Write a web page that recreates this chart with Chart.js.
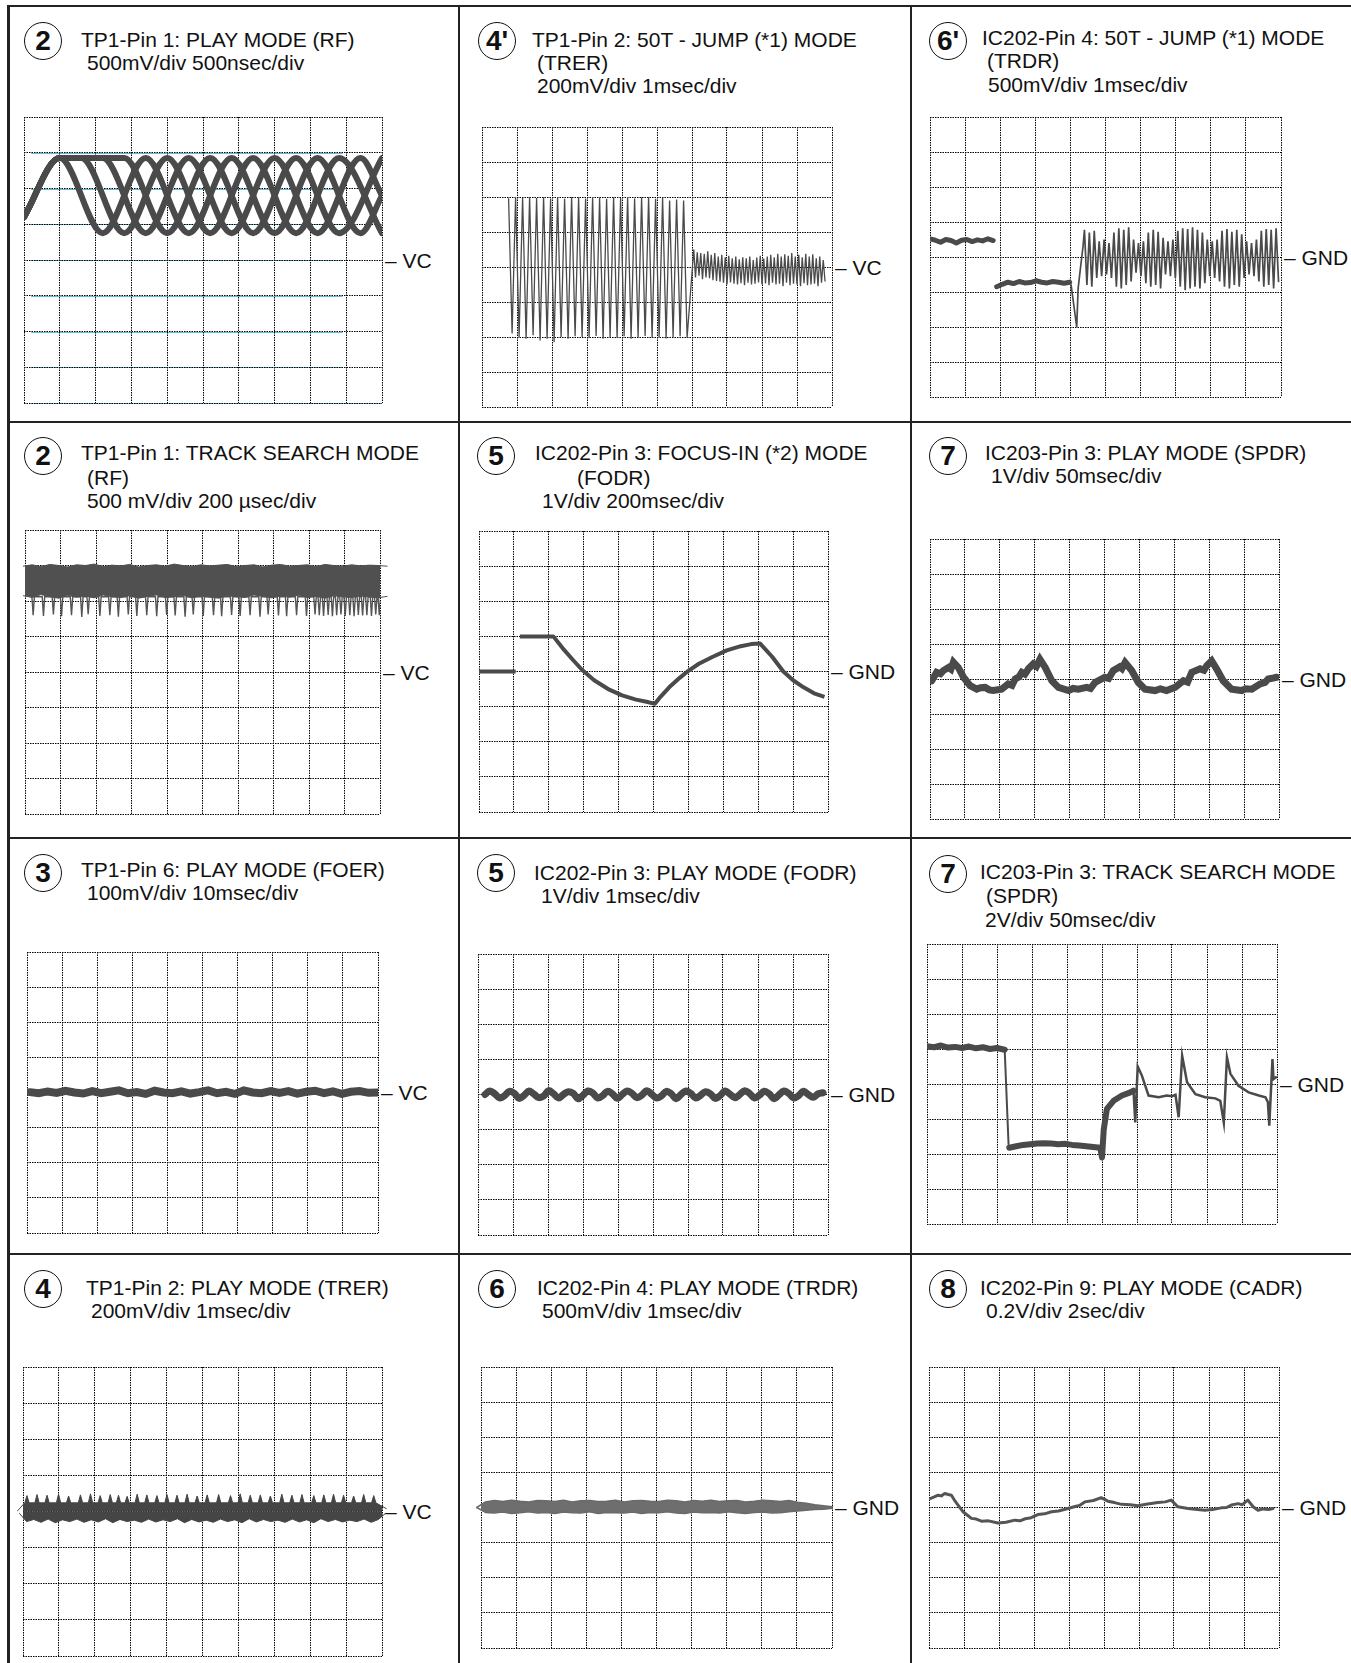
<!DOCTYPE html>
<html>
<head>
<meta charset="utf-8">
<title>Waveforms</title>
<script src="https://cdn.jsdelivr.net/npm/chart.js@4.4.1/dist/chart.umd.min.js"></script>
<style>
  html, body { margin: 0; padding: 0; background: #fff; }
  #sheet { position: relative; width: 1351px; height: 1663px; overflow: hidden;
           font-family: "Liberation Sans", Arial, sans-serif; color: #111; }
  .rule { position: absolute; background: #222; }
  .txt { position: absolute; font-size: 21px; line-height: 21px; white-space: nowrap; }
  .badge { position: absolute; box-sizing: border-box; width: 38px; height: 38px; border: 1.3px solid #111;
           border-radius: 50%; font-weight: bold; font-size: 28px; line-height: 36px; text-align: center; }
  canvas { position: absolute; }
</style>
</head>
<body>
<div id="sheet"></div>
<script>
// ---- waveform data (x in divisions 0..10, y in divisions from the VC / GND line) ----

// 2: TP1-Pin 1 play mode (RF) eye pattern, four overlapping traces
const rfPlayAX = [0, 1.0, 2.2, 3.4, 4.6, 5.8, 7.0, 8.2, 9.4, 10.0];
const rfPlayAY = [1.2, 2.85, 0.75, 2.85, 0.75, 2.85, 0.75, 2.85, 0.75, 1.8];
const rfPlayBX = [0, 1.0, 1.6, 2.8, 4.0, 5.2, 6.4, 7.6, 8.8, 10.0];
const rfPlayBY = [1.2, 2.85, 2.85, 0.75, 2.85, 0.75, 2.85, 0.75, 2.85, 0.75];
const rfPlayCX = [0, 1.0, 2.2, 3.4, 4.6, 5.8, 7.0, 8.2, 9.4, 10.0];
const rfPlayCY = [1.2, 2.85, 2.85, 0.75, 2.85, 0.75, 2.85, 0.75, 2.85, 1.8];
const rfPlayDX = [0, 1.0, 2.8, 4.0, 5.2, 6.4, 7.6, 8.8, 10.0];
const rfPlayDY = [1.2, 2.85, 2.85, 0.75, 2.85, 0.75, 2.85, 0.75, 2.85];

// 4': TP1-Pin 2 50T jump (TRER)
const trerJumpBurst = [1.95,-1.9,2.0,-2.0,1.98,-2.05,2.0,-1.95,1.97,-2.1,
  2.0,-2.05,1.96,-2.15,2.0,-2.0,1.95,-2.05,2.0,-1.98,
  1.99,-2.0,1.96,-2.02,2.0,-1.97,1.98,-2.05,1.95,-2.0,
  2.0,-2.03,1.97,-1.98,2.0,-2.05,1.96,-2.0,1.99,-1.97,
  2.0,-2.02,1.95,-2.0,1.98,-2.04,1.9,-2.0,1.93,-1.98,
  1.9,-2.02];
const trerJumpTail = [0.5,-0.3,0.42,-0.25,0.4,-0.35,0.38,-0.3,0.45,-0.32,
  0.35,-0.38,0.4,-0.4,0.3,-0.42,0.35,-0.45,0.28,-0.5,
  0.32,-0.44,0.25,-0.48,0.3,-0.5,0.22,-0.46,0.28,-0.52,
  0.25,-0.45,0.3,-0.5,0.2,-0.48,0.27,-0.44,0.32,-0.5,
  0.24,-0.47,0.3,-0.52,0.35,-0.45,0.28,-0.5,0.38,-0.48,
  0.3,-0.55,0.36,-0.45,0.32,-0.52,0.4,-0.48,0.3,-0.5,
  0.35,-0.55,0.28,-0.46,0.38,-0.52,0.3,-0.5,0.36,-0.48,
  0.25,-0.55,0.3,-0.45,0.2,-0.4];

// 6': IC202-Pin 4 50T jump (TRDR)
const trdrJumpHigh = [0.52,0.48,0.42,0.5,0.47,0.4,0.48,0.5,0.44,0.49,0.46,0.52,0.47];
const trdrJumpLow = [-0.85,-0.78,-0.72,-0.76,-0.7,-0.74,-0.73,-0.68,-0.72,-0.74,-0.7,-0.72,-0.75,-0.72];
const trdrJumpKickX = [4.02, 4.18, 4.22, 4.3, 4.36];
const trdrJumpKickY = [-0.8, -2.0, -0.9, -0.2, 0.3];
const trdrJumpBand = [0.78,-0.8,0.7,-0.85,0.75,-0.6,0.45,-0.55,0.5,-0.5,
  0.4,-0.6,0.7,-0.85,0.82,-0.9,0.78,-0.8,0.85,-0.7,
  0.5,-0.45,0.4,-0.55,0.45,-0.75,0.7,-0.85,0.78,-0.8,
  0.72,-0.9,0.55,-0.5,0.45,-0.55,0.5,-0.6,0.75,-0.85,
  0.82,-0.95,0.8,-0.9,0.85,-0.85,0.78,-0.9,0.7,-0.75,
  0.5,-0.55,0.45,-0.6,0.5,-0.7,0.75,-0.85,0.8,-0.9,
  0.72,-0.8,0.78,-0.85,0.65,-0.6,0.45,-0.5,0.4,-0.55,
  0.5,-0.7,0.75,-0.85,0.8,-0.8,0.78,-0.9,0.82,-0.7];

// 2: TP1-Pin 1 track search (RF)
const rfSearchTop = [2.98,3.02,2.97,3.03,3.0,2.96,3.02,3.0,3.04,2.97,3.01,2.99,3.03,2.96,3.0,3.02,2.98,3.04,3.0,2.97,
  3.02,2.99,3.01,3.03,2.97,3.0,3.02,2.96,3.01,3.03,2.98,3.0,3.02,2.97,3.03,3.0,2.98,3.02,2.99,3.01,3.0,2.98];
const rfSearchBottom = [2.15,2.1,2.18,2.12,2.08,2.16,2.11,2.14,2.09,2.17,2.12,2.1,2.15,2.08,2.13,2.17,2.1,2.12,2.16,2.09,
  2.14,2.11,2.08,2.15,2.12,2.1,2.17,2.13,2.09,2.14,2.11,2.16,2.1,2.13,2.08,2.15,2.12,2.1,2.14,2.11,2.09,2.13];
const rfSearchSpikeX = [0.23,0.52,0.8,1.03,1.31,1.6,1.78,2.11,2.39,2.63,2.91,3.15,3.43,3.71,3.99,4.23,4.51,4.74,5.02,5.31,
  5.54,5.82,6.06,6.34,6.62,6.85,7.14,7.37,7.65,7.93,8.17,8.29,8.41,8.54,8.66,8.78,8.9,9.02,9.15,9.27,
  9.39,9.51,9.63,9.76,9.88,9.98];
const rfSearchSpikeLow = [1.6,1.58,1.62,1.57,1.6,1.55,1.63,1.58,1.6,1.56,1.62,1.58,1.6,1.57,1.61,1.59,1.56,1.62,1.58,1.6,
  1.57,1.61,1.58,1.6,1.56,1.62,1.59,1.57,1.6,1.58,1.62,1.6,1.58,1.61,1.57,1.6,1.62,1.58,1.6,1.57,
  1.61,1.59,1.6,1.58,1.62,1.6];
const rfSearchSpikeRoot = 2.12;

// 5: IC202-Pin 3 focus-in (FODR)
const focusStepX = [0, 1.05];
const focusStepY = [0, 0];
const focusCurveX = [1.17,2.13,2.4,2.7,2.95,3.3,3.7,4.1,4.5,4.8,5.04,5.2,5.45,5.75,6.0,6.3,6.7,7.1,7.5,7.8,8.05,8.4,8.72,9.0,9.3,9.6,9.9];
const focusCurveY = [1.0,1.0,0.66,0.32,0.05,-0.25,-0.5,-0.68,-0.8,-0.86,-0.92,-0.72,-0.45,-0.18,0.02,0.22,0.42,0.6,0.72,0.78,0.8,0.42,0.0,-0.25,-0.45,-0.62,-0.72];

// 7: IC203-Pin 3 play (SPDR)
const spdrPlayX = [0.05,0.19,0.3,0.38,0.53,0.6,0.67,0.81,0.96,1.15,1.34,1.45,1.58,1.7,1.81,2.05,2.24,2.35,2.44,2.55,
  2.63,2.72,2.82,2.96,3.05,3.15,3.3,3.49,3.68,3.97,4.1,4.25,4.49,4.6,4.73,5.01,5.12,5.25,5.44,5.5,
  5.59,5.78,5.97,6.16,6.45,6.6,6.78,7.02,7.26,7.38,7.5,7.74,7.85,7.93,8.07,8.21,8.4,8.64,8.93,9.05,
  9.22,9.46,9.6,9.69,9.8,9.93];
const spdrPlayY = [-0.05,0.19,0.15,0.24,0.33,0.28,0.48,0.33,0.05,-0.19,-0.29,-0.25,-0.24,-0.31,-0.33,-0.29,-0.14,-0.18,0.0,0.06,
  0.19,0.14,0.29,0.43,0.36,0.56,0.33,-0.05,-0.24,-0.33,-0.27,-0.29,-0.24,-0.27,-0.1,0.05,0.02,0.24,0.35,0.3,
  0.47,0.24,-0.1,-0.29,-0.33,-0.28,-0.33,-0.24,-0.05,-0.09,0.19,0.29,0.25,0.38,0.52,0.29,-0.05,-0.29,-0.33,-0.28,
  -0.29,-0.14,-0.1,0.0,0.02,0.05];

// 3: TP1-Pin 6 play (FOER)
const foerPlay = [0.01,-0.02,0.03,-0.01,0.05,0.0,-0.03,0.04,-0.02,0.02,0.06,-0.02,0.01,-0.04,0.05,0.0,-0.02,0.03,-0.03,0.01,
  0.06,-0.02,0.02,-0.04,0.06,0.0,-0.02,0.04,-0.01,0.04,-0.03,0.02,0.05,-0.02,0.03,-0.04,0.02,0.04,-0.01,0.0];

// 5: IC202-Pin 3 play (FODR)
const fodrPlay = [0.0,0.1,0.02,-0.1,-0.03,0.09,0.03,-0.11,-0.02,0.1,0.01,-0.09,-0.04,0.11,0.02,-0.1,0.0,0.08,0.03,-0.12,
  -0.02,0.1,0.04,-0.1,-0.03,0.09,0.02,-0.11,0.0,0.1,0.03,-0.09,-0.02,0.11,0.01,-0.1,-0.04,0.09,0.02,-0.12,
  0.0,0.1,0.03,-0.1,-0.02,0.08,0.02,-0.11,-0.03,0.1,0.01,-0.09,0.0,0.11,0.03,-0.1,-0.02,0.09,0.02,-0.12,
  -0.01,0.1,0.03,-0.1,-0.03,0.09,0.0,-0.08,0.02,0.05];

// 7: IC203-Pin 3 track search (SPDR)
const spdrSearchHiX = [0,0.2,0.4,0.6,0.8,1.0,1.2,1.4,1.6,1.8,2.0,2.22];
const spdrSearchHiY = [1.08,1.05,1.1,1.04,1.06,1.03,1.07,1.02,1.05,1.0,1.03,0.98];
const spdrSearchDropX = [2.22, 2.33];
const spdrSearchDropY = [0.98, -1.72];
const spdrSearchLoX = [2.35,2.55,2.75,2.95,3.15,3.35,3.55,3.75,3.95,4.15,4.35,4.55,4.75,4.95];
const spdrSearchLoY = [-1.82,-1.78,-1.74,-1.72,-1.7,-1.69,-1.7,-1.72,-1.71,-1.74,-1.76,-1.78,-1.8,-1.82];
const spdrSearchRiseX = [4.95,5.0,5.05,5.14,5.33,5.57,5.81,5.9];
const spdrSearchRiseY = [-1.82,-2.1,-1.3,-0.71,-0.48,-0.33,-0.24,-0.19];
const spdrSearchTailX = [5.9,5.95,6.02,6.14,6.33,6.62,6.85,7.0,7.1,7.19,7.29,7.43,7.67,7.95,8.24,8.38,8.48,8.57,8.67,8.9,
  9.19,9.48,9.67,9.74,9.78,9.87,9.9,9.97];
const spdrSearchTailY = [-0.19,-1.1,0.5,0.24,-0.33,-0.38,-0.33,-0.35,-0.31,-0.95,0.81,0.05,-0.29,-0.38,-0.41,-0.48,-1.1,0.76,0.29,-0.05,
  -0.24,-0.33,-0.38,-0.52,-1.19,0.71,0.14,0.19];

// 4: TP1-Pin 2 play (TRER): flat band with narrow spikes on its top edge
const trerPlaySpikeX = [0.11,0.39,0.67,0.99,1.27,1.6,1.88,2.15,2.43,2.66,2.9,3.18,3.45,3.73,4.01,4.29,4.57,4.85,5.13,5.45,
  5.78,6.05,6.33,6.61,6.89,7.21,7.49,7.77,8.1,8.38,8.65,8.93,9.21,9.49,9.77];
const trerPlaySpikeTop = [0.44,0.47,0.45,0.48,0.43,0.46,0.49,0.44,0.47,0.45,0.42,0.48,0.46,0.44,0.47,0.45,0.48,0.43,0.46,0.47,
  0.44,0.49,0.45,0.46,0.43,0.48,0.45,0.47,0.44,0.46,0.48,0.45,0.43,0.47,0.44];
const trerPlayRoot = 0.24;
const trerPlayEndsX = [-0.15, 10.12];
const trerPlayEndsY = [0.02, 0.08];
const trerPlayLower = [-0.05,-0.28,-0.22,-0.3,-0.21,-0.31,-0.23,-0.28,-0.21,-0.3,-0.23,-0.29,-0.2,-0.31,-0.22,-0.28,-0.24,-0.3,-0.21,-0.29,
  -0.23,-0.28,-0.2,-0.31,-0.22,-0.29,-0.24,-0.3,-0.21,-0.28,-0.23,-0.31,-0.2,-0.29,-0.22,-0.28,-0.24,-0.3,-0.21,-0.29,
  -0.23,-0.31,-0.2,-0.28,-0.22,-0.29,-0.24,-0.28,-0.21,-0.3,-0.22,-0.05];

// 6: IC202-Pin 4 play (TRDR)
const trdrPlayUpper = [0.0,0.16,0.2,0.17,0.21,0.18,0.16,0.2,0.19,0.17,0.21,0.16,0.19,0.2,0.17,0.18,0.21,0.16,0.19,0.2,
  0.18,0.17,0.21,0.19,0.16,0.2,0.18,0.21,0.17,0.19,0.2,0.16,0.18,0.21,0.19,0.17,0.2,0.15,0.12,0.08,0.05,0.02];
const trdrPlayLower = [0.0,-0.14,-0.16,-0.13,-0.17,-0.15,-0.12,-0.16,-0.14,-0.17,-0.13,-0.15,-0.16,-0.12,-0.17,-0.14,-0.15,-0.16,-0.13,-0.17,
  -0.14,-0.15,-0.12,-0.16,-0.17,-0.13,-0.15,-0.14,-0.16,-0.12,-0.15,-0.17,-0.14,-0.13,-0.16,-0.15,-0.12,-0.1,-0.08,-0.06,-0.05,-0.02];

// 8: IC202-Pin 9 play (CADR)
const cadrPlayX = [0.05,0.15,0.26,0.35,0.45,0.55,0.64,0.72,0.83,0.97,1.1,1.21,1.35,1.5,1.7,1.97,2.2,2.45,2.6,2.75,
  2.92,3.11,3.3,3.5,3.7,3.97,4.15,4.3,4.45,4.7,4.92,5.11,5.3,5.5,5.75,5.97,6.2,6.54,6.75,6.92,
  7.11,7.4,7.6,7.88,8.1,8.35,8.5,8.64,8.83,8.95,9.11,9.26,9.4,9.55,9.7,9.83];
const cadrPlayY = [0.26,0.3,0.35,0.33,0.4,0.37,0.35,0.22,0.07,-0.12,-0.22,-0.31,-0.33,-0.39,-0.38,-0.44,-0.42,-0.36,-0.38,-0.32,
  -0.29,-0.2,-0.18,-0.12,-0.1,-0.03,0.02,0.06,0.16,0.2,0.28,0.18,0.14,0.09,0.08,0.05,0.09,0.14,0.16,0.21,
  0.02,-0.03,-0.05,-0.08,-0.06,-0.01,0.0,0.07,0.11,0.08,0.21,0.02,-0.08,-0.04,-0.06,-0.03];

// ---- helpers ----
const INK = '#4a4a4a';
const PAD = 10;

function xy(xs, ys) { return xs.map((x, i) => ({ x: x, y: ys[i] })); }
// samples taken at a fixed time step
function sampled(t0, dt, ys) { return ys.map((y, i) => ({ x: t0 + i * dt, y: y })); }
// narrow V / A shaped spikes rising from a common root level
function spikes(xs, tips, root, half) {
  const pts = [];
  xs.forEach((sx, i) => pts.push({ x: sx - half, y: root }, { x: sx, y: tips[i] }, { x: sx + half, y: root }));
  return pts;
}

function trace(points, width, extra) {
  return Object.assign({ data: points, borderColor: INK, borderWidth: width, pointRadius: 0,
    fill: false, tension: 0, borderJoinStyle: 'round', borderCapStyle: 'round' }, extra || {});
}

const trerUpperEdge = [{ x: trerPlayEndsX[0], y: trerPlayEndsY[0] }]
  .concat(spikes(trerPlaySpikeX, trerPlaySpikeTop, trerPlayRoot, 0.06))
  .concat([{ x: trerPlayEndsX[1], y: trerPlayEndsY[1] }]);

// faint cyan rules seen under the grid of the first screen
const cyanRules = {
  id: 'cyanRules',
  beforeDraw(chart) {
    const { ctx, scales: { x, y } } = chart;
    ctx.save();
    ctx.strokeStyle = 'rgba(40,170,210,0.75)';
    ctx.lineWidth = 1;
    y.ticks.forEach(t => {
      if (t.value > 3) return;
      const py = Math.round(y.getPixelForValue(t.value)) + 0.5;
      ctx.beginPath();
      ctx.moveTo(x.getPixelForValue(0.2), py);
      ctx.lineTo(x.getPixelForValue(t.value === -4 ? 10 : 8.9), py);
      ctx.stroke();
    });
    ctx.restore();
  }
};

const panels = [
  { badge: '2', at: [43, 41], grid: [24, 117, 358, 286], ref: 'VC',
    lines: [[81, 47, 'TP1-Pin 1: PLAY MODE (RF)'], [87, 70, '500mV/div 500nsec/div']],
    plugins: [cyanRules],
    datasets: [
      trace(xy(rfPlayAX, rfPlayAY), 6, { cubicInterpolationMode: 'monotone' }),
      trace(xy(rfPlayBX, rfPlayBY), 6, { cubicInterpolationMode: 'monotone' }),
      trace(xy(rfPlayCX, rfPlayCY), 6, { cubicInterpolationMode: 'monotone' }),
      trace(xy(rfPlayDX, rfPlayDY), 6, { cubicInterpolationMode: 'monotone' })
    ] },
  { badge: "4'", at: [497, 41], grid: [482, 127, 350, 280], ref: 'VC',
    lines: [[532, 47, 'TP1-Pin 2: 50T - JUMP (*1) MODE'], [537, 70, '(TRER)'], [537, 93, '200mV/div 1msec/div']],
    datasets: [
      trace(sampled(0.76, 0.1, trerJumpBurst).concat(sampled(6.05, 0.05, trerJumpTail)), 1.3, { borderJoinStyle: 'miter' })
    ] },
  { badge: "6'", at: [948, 41], grid: [930, 117, 351, 280], ref: 'GND',
    lines: [[982, 45, 'IC202-Pin 4: 50T - JUMP (*1) MODE'], [987, 68, '(TRDR)'], [988, 92, '500mV/div 1msec/div']],
    datasets: [
      trace(sampled(0, 0.15, trdrJumpHigh), 5),
      trace(sampled(1.9, 0.16, trdrJumpLow), 5),
      trace(xy(trdrJumpKickX, trdrJumpKickY).concat(sampled(4.4, 0.07, trdrJumpBand)), 1.7, { borderJoinStyle: 'miter' })
    ] },
  { badge: '2', at: [43, 456], grid: [25, 530, 355, 284], ref: 'VC',
    lines: [[81, 460, 'TP1-Pin 1: TRACK SEARCH MODE'], [87, 485, '(RF)'], [87, 508, '500 mV/div 200 \u00b5sec/div']],
    datasets: [
      trace(sampled(-0.05, 0.25, rfSearchTop), 1, { borderColor: '#505050', clip: false }),
      trace(sampled(-0.05, 0.25, rfSearchBottom), 1, { borderColor: '#505050', fill: '-1', backgroundColor: '#505050', clip: false }),
      trace(spikes(rfSearchSpikeX, rfSearchSpikeLow, rfSearchSpikeRoot, 0.035), 1.4, { borderColor: '#555', borderJoinStyle: 'miter' })
    ] },
  { badge: '5', at: [496, 456], grid: [479, 531, 349, 281], ref: 'GND',
    lines: [[535, 460, 'IC202-Pin 3: FOCUS-IN (*2) MODE'], [577, 485, '(FODR)'], [542, 508, '1V/div 200msec/div']],
    datasets: [
      trace(xy(focusStepX, focusStepY), 4, { borderCapStyle: 'butt' }),
      trace(xy(focusCurveX, focusCurveY), 4, { borderCapStyle: 'butt' })
    ] },
  { badge: '7', at: [948, 456], grid: [930, 539, 349, 280], ref: 'GND',
    lines: [[985, 460, 'IC203-Pin 3: PLAY MODE (SPDR)'], [991, 483, '1V/div 50msec/div']],
    datasets: [ trace(xy(spdrPlayX, spdrPlayY), 7, { borderJoinStyle: 'miter' }) ] },
  { badge: '3', at: [43, 873], grid: [27, 952, 351, 281], ref: 'VC',
    lines: [[81, 877, 'TP1-Pin 6: PLAY MODE (FOER)'], [87, 900, '100mV/div 10msec/div']],
    datasets: [ trace(sampled(0.08, 0.254, foerPlay), 8, { borderJoinStyle: 'miter' }) ] },
  { badge: '5', at: [496, 873], grid: [478, 954, 350, 281], ref: 'GND',
    lines: [[534, 880, 'IC202-Pin 3: PLAY MODE (FODR)'], [541, 903, '1V/div 1msec/div']],
    datasets: [ trace(sampled(0.2, 0.14, fodrPlay), 7, { tension: 0.4 }) ] },
  { badge: '7', at: [948, 874], grid: [927, 944, 350, 280], ref: 'GND',
    lines: [[980, 879, 'IC203-Pin 3: TRACK SEARCH MODE'], [986, 903, '(SPDR)'], [985, 927, '2V/div 50msec/div']],
    datasets: [
      trace(xy(spdrSearchHiX, spdrSearchHiY), 6),
      trace(xy(spdrSearchDropX, spdrSearchDropY), 2),
      trace(xy(spdrSearchLoX, spdrSearchLoY), 6),
      trace(xy(spdrSearchRiseX, spdrSearchRiseY), 6),
      trace(xy(spdrSearchTailX, spdrSearchTailY), 2.5, { borderJoinStyle: 'miter' })
    ] },
  { badge: '4', at: [43, 1289], grid: [23, 1367, 359, 289], ref: 'VC',
    lines: [[86, 1295, 'TP1-Pin 2: PLAY MODE (TRER)'], [91, 1318, '200mV/div 1msec/div']],
    datasets: [
      trace(trerUpperEdge, 1, { borderColor: '#454545', fill: { value: 0 }, backgroundColor: '#454545', clip: false, borderJoinStyle: 'miter' }),
      trace(sampled(-0.1, 0.2, trerPlayLower), 1, { borderColor: '#454545', fill: { value: 0 }, backgroundColor: '#454545', clip: false })
    ] },
  { badge: '6', at: [497, 1289], grid: [481, 1367, 351, 281], ref: 'GND',
    lines: [[537, 1295, 'IC202-Pin 4: PLAY MODE (TRDR)'], [542, 1318, '500mV/div 1msec/div']],
    datasets: [
      trace(sampled(-0.12, 0.247, trdrPlayUpper), 1.5, { borderColor: '#6a6a6a', clip: false }),
      trace(sampled(-0.12, 0.247, trdrPlayLower), 1.5, { borderColor: '#6a6a6a', fill: '-1', backgroundColor: '#6e6e6e', clip: false })
    ] },
  { badge: '8', at: [948, 1289], grid: [929, 1367, 350, 281], ref: 'GND',
    lines: [[980, 1295, 'IC202-Pin 9: PLAY MODE (CADR)'], [986, 1318, '0.2V/div 2sec/div']],
    datasets: [ trace(xy(cadrPlayX, cadrPlayY), 3, { borderColor: '#555' }) ] }
];

// ---- page ----
const sheet = document.getElementById('sheet');

function add(cls, css, text) {
  const el = document.createElement('div');
  el.className = cls;
  Object.assign(el.style, css);
  if (text !== undefined) el.textContent = text;
  sheet.appendChild(el);
  return el;
}

// frame
add('rule', { left: '7px', top: '5px', width: '1344px', height: '2px' });
add('rule', { left: '7px', top: '5px', width: '3px', height: '1658px' });
add('rule', { left: '458px', top: '5px', width: '2px', height: '1658px' });
add('rule', { left: '910px', top: '5px', width: '2px', height: '1658px' });
[421, 837, 1253].forEach(y => add('rule', { left: '7px', top: y + 'px', width: '1344px', height: '2px' }));

function scopeOptions() {
  const axis = (min, max) => ({
    type: 'linear', min: min, max: max,
    ticks: { display: false, stepSize: 1 },
    grid: { color: '#000', lineWidth: 1, drawTicks: false },
    border: { display: false, dash: [1.5, 1] }
  });
  return {
    responsive: false, animation: false, events: [],
    layout: { padding: PAD },
    plugins: { legend: { display: false }, tooltip: { enabled: false } },
    scales: { x: axis(0, 10), y: axis(-4, 4) }
  };
}

panels.forEach(p => {
  const [gl, gt, gw, gh] = p.grid;

  add('badge', { left: (p.at[0] - 19) + 'px', top: (p.at[1] - 19) + 'px' }, p.badge);
  p.lines.forEach(([x, base, text]) => add('txt', { left: x + 'px', top: (base - 18) + 'px' }, text));
  add('txt', { left: (gl + gw + 3) + 'px', top: (gt + gh / 2 - 10.5) + 'px' }, '\u2013 ' + p.ref);

  const cv = document.createElement('canvas');
  cv.width = gw + 2 * PAD;
  cv.height = gh + 2 * PAD;
  cv.style.left = (gl - PAD) + 'px';
  cv.style.top = (gt - PAD) + 'px';
  sheet.appendChild(cv);

  new Chart(cv, {
    type: 'line',
    data: { datasets: p.datasets },
    options: scopeOptions(),
    plugins: p.plugins || []
  });
});
</script>
</body>
</html>
